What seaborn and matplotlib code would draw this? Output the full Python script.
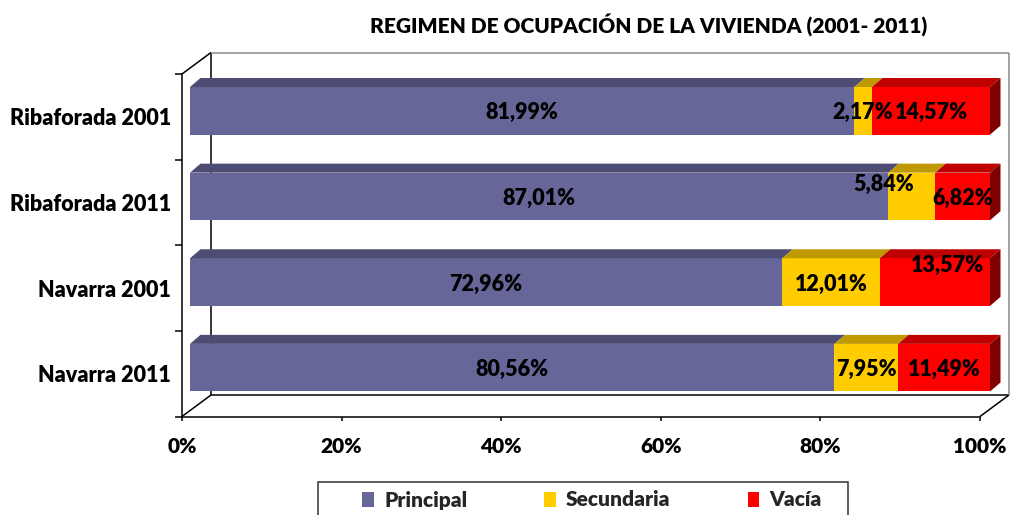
import matplotlib
matplotlib.use("Agg")
import numpy as np
import pandas as pd
import matplotlib.pyplot as plt
import seaborn as sns
from matplotlib.patches import Polygon, Rectangle, Patch

# Housing tenure shares (%), per area and census year
categories = ["Ribaforada 2001", "Ribaforada 2011", "Navarra 2001", "Navarra 2011"]
principal = [81.99, 87.01, 72.96, 80.56]
secundaria = [2.17, 5.84, 12.01, 7.95]
vacia = [14.57, 6.82, 13.57, 11.49]
series_names = ["Principal", "Secundaria", "Vacía"]
tick_values = [0, 20, 40, 60, 80, 100]
tick_labels = ["0%", "20%", "40%", "60%", "80%", "100%"]
title = "REGIMEN DE OCUPACIÓN DE LA VIVIENDA (2001- 2011)"

front_colors = {"Principal": "#666699", "Secundaria": "#FFCC00", "Vacía": "#FF0000"}
top_colors = {"Principal": "#4D4D73", "Secundaria": "#BF9900", "Vacía": "#BF0000"}
side_color = "#800000"

WEIGHT = 800

sns.set_theme(style="white")
plt.rcParams["font.family"] = ["Lato", "DejaVu Sans"]
plt.rcParams["font.weight"] = WEIGHT

W, H = 1010, 515
fig = plt.figure(figsize=(W / 100, H / 100), dpi=100)
fig.patch.set_facecolor("white")


def fx(px):
    return px / W


def fy(py):
    return 1 - py / H


# front plane of the 3-D box (axes, ticks, labels)
ax = fig.add_axes([fx(182), fy(416.5), (980 - 182) / W, (416.5 - 74) / H])
# plane holding the front faces of the bars
ax_bar = fig.add_axes([fx(190), fy(410.5), 800 / W, (410.5 - 68) / H])
ax_bar.patch.set_visible(False)

df = pd.DataFrame({"area": categories, "Principal": principal,
                   "Secundaria": secundaria, "Vacía": vacia})
totals = df[series_names].sum(axis=1)
shares = df[series_names].div(totals, axis=0) * 100
cum = shares.cumsum(axis=1)

bar_w = 0.556
# stacked bars: draw cumulative totals from the outermost segment inwards
for name in reversed(series_names):
    sns.barplot(x=cum[name].values, y=df["area"], orient="h",
                color=front_colors[name], saturation=1, width=bar_w,
                errorbar=None, linewidth=0, ax=ax_bar)

ax_bar.set_xlim(0, 100)
ax_bar.set_ylim(3.5, -0.5)

# depth of the bars (in ax_bar data units)
ddx = 10.5 * 100 / 800
ddy = 9 / ((410.5 - 68) / 4)
for i in range(len(categories)):
    top = i - bar_w / 2
    bot = i + bar_w / 2
    left = 0.0
    for name in series_names:
        right = cum[name].iloc[i]
        ax_bar.add_patch(Polygon([(left, top), (right, top),
                                  (right + ddx, top - ddy), (left + ddx, top - ddy)],
                                 closed=True, facecolor=top_colors[name],
                                 edgecolor="none", clip_on=False))
        left = right
    ax_bar.add_patch(Polygon([(100, top), (100, bot), (100 + ddx, bot - ddy),
                              (100 + ddx, top - ddy)], closed=True,
                             facecolor=side_color, edgecolor="none", clip_on=False))

# value labels (pixel nudges for labels that sit off-centre)
nudges = {(1, "Secundaria"): (-28, 14), (2, "Vacía"): (13, 19)}
raw = df[series_names]
for i in range(len(categories)):
    left = 0.0
    for name in series_names:
        right = cum[name].iloc[i]
        cx = (left + right) / 2
        nx, ny = nudges.get((i, name), (0, 0))
        txt = f"{raw[name].iloc[i]:.2f}%".replace(".", ",")
        ax_bar.annotate(txt, (cx, i), xytext=(nx * 0.72, ny * 0.72),
                        textcoords="offset points", ha="center",
                        va="center_baseline", fontsize=15.5, fontweight=WEIGHT,
                        color="black", annotation_clip=False)
        left = right
ax_bar.axis("off")

# front axes: ticks, labels and the box walls
ax.set_xlim(0, 100)
ax.set_ylim(3.5, -0.5)
ax.set_facecolor("none")
ax.set_xticks(tick_values, tick_labels)
ax.set_yticks(range(len(categories)), categories)
ax.set_yticks([-0.5, 0.5, 1.5, 2.5, 3.5], minor=True)
ax.tick_params(axis="x", length=3, width=1.1, color="black", pad=12,
               labelsize=15, labelcolor="black", bottom=True)
ax.tick_params(axis="y", which="major", length=0, pad=8, labelsize=15.5,
               labelcolor="black", left=True)
ax.tick_params(axis="y", which="minor", length=5, width=1.1, color="black", left=True)
for lab in ax.get_xticklabels() + ax.get_yticklabels():
    lab.set_fontweight(WEIGHT)
for side in ("top", "right"):
    ax.spines[side].set_visible(False)
for side in ("left", "bottom"):
    ax.spines[side].set_color("black")
    ax.spines[side].set_linewidth(1.1)

bx = 29 * 100 / 798
by = 21.5 / ((416.5 - 74) / 4)
wall = dict(lw=1.1, clip_on=False, solid_capstyle="butt")
ax.plot([0, bx], [-0.5, -0.5 - by], color="black", **wall)
ax.plot([0, bx], [3.5, 3.5 - by], color="black", **wall)
ax.plot([100, 100 + bx], [3.5, 3.5 - by], color="black", **wall)
ax.plot([bx, bx], [-0.5 - by, 3.5 - by], color="black", **wall)
ax.plot([bx, 100 + bx], [3.5 - by, 3.5 - by], color="black", **wall)
ax.plot([bx, 100 + bx], [-0.5 - by, -0.5 - by], color="#888888", **wall)
ax.plot([100 + bx, 100 + bx], [-0.5 - by, 3.5 - by], color="#888888", **wall)

fig.text(fx(649), fy(25), title, ha="center", va="center", fontsize=15,
         fontweight=WEIGHT, color="black")

handles = [Patch(facecolor=front_colors[n], edgecolor="none") for n in series_names]
leg = fig.legend(handles, series_names, ncol=3, loc="center",
                 bbox_to_anchor=(fx(592), fy(500)), frameon=False, fontsize=15,
                 handlelength=0.55, handleheight=0.75, handletextpad=0.5,
                 columnspacing=3.7)
for t in leg.get_texts():
    t.set_fontweight(WEIGHT)
fig.add_artist(Rectangle((fx(318), fy(540)), (848 - 318) / W, (540 - 482) / H,
                         transform=fig.transFigure, fill=False,
                         edgecolor="#333333", lw=1.1))

fig.savefig("out.png", dpi=100)
